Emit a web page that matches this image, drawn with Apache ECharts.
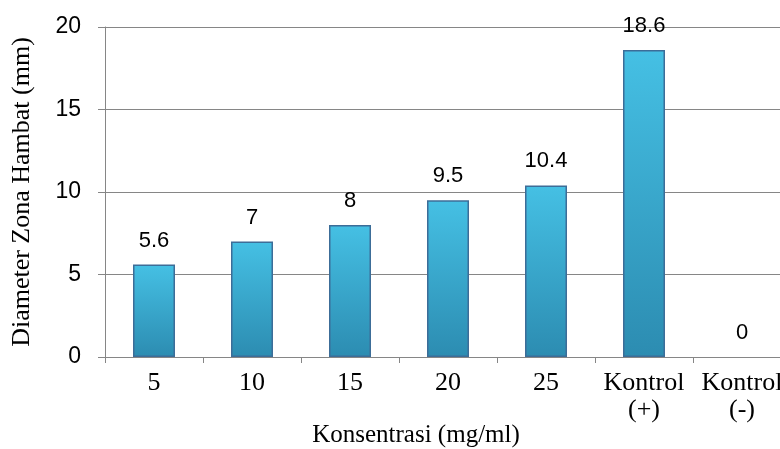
<!DOCTYPE html>
<html><head><meta charset="utf-8">
<script src="https://cdn.jsdelivr.net/npm/echarts@6/dist/echarts.min.js"></script>
<style>html,body{margin:0;padding:0;background:#fff}#c{width:780px;height:449px}</style>
</head><body><div id="c"></div>
<script>
const categories = ['5', '10', '15', '20', '25', 'Kontrol\n(+)', 'Kontrol\n(-)'];
const values = [5.6, 7, 8, 9.5, 10.4, 18.6, 0];
const yTicks = [0, 5, 10, 15, 20];

const chart = echarts.init(document.getElementById('c'));
chart.setOption({
  animation: false,
  grid: { left: 105, width: 686, top: 27, height: 330, containLabel: false, outerBoundsMode: 'none' },
  xAxis: {
    type: 'category',
    data: categories,
    name: 'Konsentrasi (mg/ml)',
    nameLocation: 'middle',
    nameGap: 66,
    nameMoveOverlap: false,
    nameTextStyle: { fontFamily: 'Liberation Serif', fontSize: 25, color: '#000', padding: [0, 0, 0, -64] },
    axisLine: { lineStyle: { color: '#868686', width: 1 } },
    axisTick: { show: true, length: 6, lineStyle: { color: '#868686' } },
    axisLabel: { fontFamily: 'Liberation Serif', fontSize: 26, color: '#000', margin: 13, lineHeight: 27, interval: 0 }
  },
  yAxis: {
    type: 'value',
    min: 0, max: 20, interval: 5,
    name: 'Diameter Zona Hambat (mm)',
    nameLocation: 'middle',
    nameGap: 83,
    nameMoveOverlap: false,
    nameRotate: 90,
    nameTextStyle: { fontFamily: 'Liberation Serif', fontSize: 26, color: '#000', verticalAlign: 'middle' },
    axisLine: { show: true, lineStyle: { color: '#868686' } },
    axisTick: { show: true, length: 7, lineStyle: { color: '#868686' } },
    splitLine: { lineStyle: { color: '#868686', width: 1 } },
    axisLabel: {
      fontFamily: 'Liberation Sans', fontSize: 23, color: '#000', margin: 24,
      formatter: v => yTicks.includes(v) ? String(v) : ''
    }
  },
  series: [{
    type: 'bar',
    data: values.map(v => v === 0 ? { value: v, itemStyle: { borderWidth: 0, opacity: 0 } } : v),
    barWidth: 42,
    itemStyle: {
      color: new echarts.graphic.LinearGradient(0, 0, 0, 1, [
        { offset: 0, color: '#45C0E4' },
        { offset: 1, color: '#2C8CB1' }
      ]),
      borderColor: '#3C6D98',
      borderWidth: 1.5
    },
    label: {
      show: true, position: 'top', distance: 13,
      fontFamily: 'Liberation Sans', fontSize: 22, color: '#000', opacity: 1
    }
  }]
});
</script>
</body></html>
